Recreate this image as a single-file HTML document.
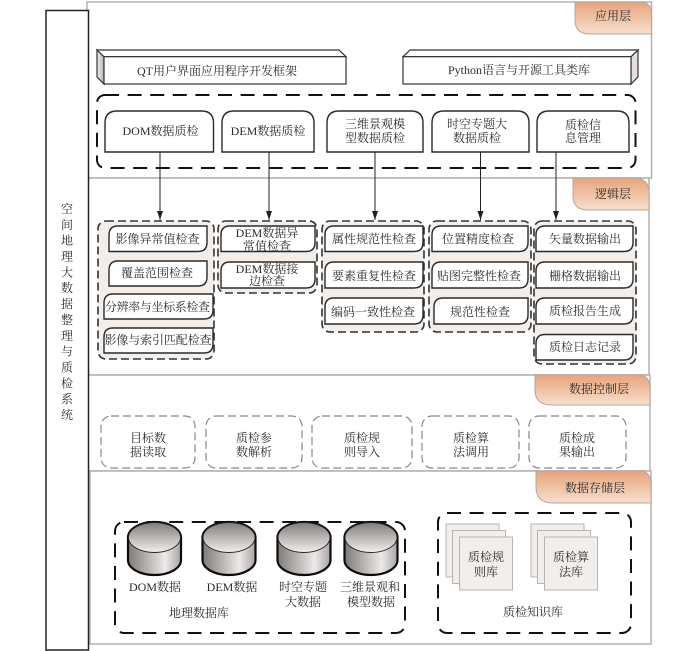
<!DOCTYPE html>
<html><head><meta charset="utf-8"><style>
html,body{margin:0;padding:0;background:#fff}
svg{display:block;filter:blur(.35px)}
text{font-family:"Liberation Serif","Noto Serif CJK SC",serif;font-size:12px;fill:#2c2c2c;text-anchor:middle;dominant-baseline:central}
.l{fill:#fff;stroke:#b5b0ae;stroke-width:1.5}
.t{fill:url(#tab);stroke:#b5a79e;stroke-width:1}
.p{fill:#fff;stroke:#2a2a2a;stroke-width:1.4}
.a{fill:#fff;stroke:#2a2a2a;stroke-width:1.4}
.g{fill:#f3eeea;stroke:#333;stroke-width:1.6;stroke-dasharray:8 4}
.d{fill:none;stroke:#111;stroke-width:2;stroke-dasharray:14 8.6}
.c{fill:#fff;stroke:#8a8784;stroke-width:1.2;stroke-dasharray:8 4}
.ar{stroke:#222;stroke-width:1}
.pg{fill:#f2eeeb;stroke:#b8b4b0;stroke-width:1}
.cy{fill:url(#side);stroke:#0c0c0c;stroke-width:2.2}
.ct{fill:url(#top);stroke:#222;stroke-width:.9}
</style></head><body>
<svg width="700" height="651" viewBox="0 0 700 651" xmlns="http://www.w3.org/2000/svg">
<defs>
<linearGradient id="tab" x1="0" y1="0" x2="0" y2="1"><stop offset="0" stop-color="#e6a47c"/><stop offset="1" stop-color="#f8dfcd"/></linearGradient>
<linearGradient id="top" x1="0" y1="0" x2="0" y2="1"><stop offset="0" stop-color="#827c79"/><stop offset="1" stop-color="#f1efee"/></linearGradient>
<linearGradient id="side" x1="0" y1="0" x2="1" y2="0"><stop offset="0" stop-color="#7f7a78"/><stop offset=".7" stop-color="#ece9e8"/><stop offset="1" stop-color="#a8a4a2"/></linearGradient>
<linearGradient id="pr" x1="0" y1="0" x2="1" y2="0"><stop offset="0" stop-color="#f0ecea"/><stop offset="1" stop-color="#b9b5b2"/></linearGradient>
<marker id="m" markerWidth="6" markerHeight="10" refX="3" refY="9" orient="0" markerUnits="userSpaceOnUse"><path d="M0 0L6 0L3 9Z" fill="#222"/></marker>
</defs>

<!-- layers -->
<rect class="l" x="87" y="2" width="564.5" height="176"/>
<path class="l" d="M87 178H649V375H87Z"/>
<path class="l" d="M87 375H650V471H87Z"/>
<rect class="l" x="90" y="471" width="561" height="173"/>

<!-- left bar -->
<rect x="46" y="10.5" width="42.5" height="639.5" fill="#fff" stroke="#222" stroke-width="1.5"/>
<text x="67" y="209">空</text><text x="67" y="224.8">间</text><text x="67" y="240.7">地</text><text x="67" y="256.5">理</text><text x="67" y="272.4">大</text><text x="67" y="288.2">数</text><text x="67" y="304.1">据</text><text x="67" y="320">整</text><text x="67" y="335.8">理</text><text x="67" y="351.6">与</text><text x="67" y="367.5">质</text><text x="67" y="383.4">检</text><text x="67" y="399.2">系</text><text x="67" y="415">统</text>

<!-- tabs -->
<path class="t" d="M575 2H640Q651.5 2 651.5 14V34H590Q575 34 575 20Z"/>
<path class="t" d="M573 178H637Q649 180 649 192V210H588Q573 210 573 196Z"/>
<path class="t" d="M535 375H642Q650 378 650 388V405H552Q535 405 535 390Z"/>
<path class="t" d="M536 471H642Q651 473 651 484V503H553Q536 503 536 487Z"/>
<text x="613" y="16">应用层</text>
<text x="613" y="194">逻辑层</text>
<text x="599" y="389">数据控制层</text>
<text x="595" y="488">数据存储层</text>

<!-- prisms -->
<path d="M97 50L104 56.7V84L97 77Z" fill="url(#pr)" stroke="#333" stroke-width="1.2"/>
<path d="M97 50H339L346 56.7H104Z" fill="#fff" stroke="#333" stroke-width="1.2"/>
<rect x="104" y="56.7" width="242" height="27.3" fill="#fff" stroke="#333" stroke-width="1.2"/>
<text x="217" y="71">QT用户界面应用程序开发框架</text>
<path d="M631 56.7L638 50V77L631 84Z" fill="#e4dfdc" stroke="#333" stroke-width="1.2"/>
<path d="M403 56.7L410 50H638L631 56.7Z" fill="#fff" stroke="#333" stroke-width="1.2"/>
<rect x="403" y="56.7" width="228" height="27.3" fill="#fff" stroke="#333" stroke-width="1.2"/>
<text x="519" y="70">Python语言与开源工具类库</text>

<!-- app dashed -->
<rect class="d" x="97" y="95" width="538.5" height="73" rx="8"/>
<path class="a" d="M105 152V123Q105 111 117 111H201.500Q213.500 111 213.500 123V152Z"/>
<path class="a" d="M222 152V123Q222 111 234 111H302Q314 111 314 123V152Z"/>
<path class="a" d="M327 152V123Q327 111 339 111H411Q423 111 423 123V152Z"/>
<path class="a" d="M432 152V123Q432 111 444 111H517Q529 111 529 123V152Z"/>
<path class="a" d="M537 152V123Q537 111 549 111H617Q629 111 629 123V152Z"/>
<text x="160.500" y="131">DOM数据质检</text>
<text x="268" y="131">DEM数据质检</text>
<text x="375" y="124">三维景观模</text><text x="375" y="138">型数据质检</text>
<text x="477" y="124">时空专题大</text><text x="477" y="138">数据质检</text>
<text x="583" y="125">质检信</text><text x="583" y="138">息管理</text>

<!-- logic groups -->
<rect class="g" x="98" y="221" width="116" height="138" rx="8"/>
<rect class="g" x="218" y="221" width="99" height="72" rx="8"/>
<rect class="g" x="322" y="221" width="102" height="111" rx="8"/>
<rect class="g" x="429" y="221" width="102" height="111" rx="8"/>
<rect class="g" x="534" y="221" width="102" height="143" rx="8"/>

<!-- arrows -->
<line class="ar" x1="160" y1="152" x2="160" y2="220" marker-end="url(#m)"/>
<line class="ar" x1="269" y1="152" x2="269" y2="220" marker-end="url(#m)"/>
<line class="ar" x1="375" y1="152" x2="375" y2="220" marker-end="url(#m)"/>
<line class="ar" x1="480.500" y1="152" x2="480.500" y2="220" marker-end="url(#m)"/>
<line class="ar" x1="556" y1="152" x2="556" y2="220" marker-end="url(#m)"/>

<!-- group 1 -->
<path class="p" d="M109 251.500V235Q109 226 118 226H207V242.500Q207 251.500 198 251.500Z"/>
<path class="p" d="M109 286V270Q109 261 118 261H207V277Q207 286 198 286Z"/>
<path class="p" d="M104 319V303Q104 294 113 294H213V310Q213 319 204 319Z"/>
<path class="p" d="M104 353V337Q104 328 113 328H213V344Q213 353 204 353Z"/>
<text x="157.500" y="239">影像异常值检查</text>
<text x="157" y="273">覆盖范围检查</text>
<text x="157.500" y="307" textLength="105">分辨率与坐标系检查</text>
<text x="158" y="340" textLength="107">影像与索引匹配检查</text>

<!-- group 2 -->
<path class="p" d="M221 251.500V235Q221 226 230 226H315V242.500Q315 251.500 306 251.500Z"/>
<path class="p" d="M221 288V271Q221 262 230 262H315V279Q315 288 306 288Z"/>
<text x="267" y="233">DEM数据异</text><text x="267" y="246">常值检查</text>
<text x="267" y="269">DEM数据接</text><text x="267" y="281">边检查</text>

<!-- group 3 -->
<path class="p" d="M325 251.500V235Q325 226 334 226H423V242.500Q423 251.500 414 251.500Z"/>
<path class="p" d="M325 288V271Q325 262 334 262H423V279Q423 288 414 288Z"/>
<path class="p" d="M325 324V307Q325 298 334 298H423V315Q423 324 414 324Z"/>
<text x="374" y="239">属性规范性检查</text>
<text x="374" y="276">要素重复性检查</text>
<text x="373" y="312">编码一致性检查</text>

<!-- group 4 -->
<path class="p" d="M432 251.500V235Q432 226 441 226H528V242.500Q528 251.500 519 251.500Z"/>
<path class="p" d="M432 288V271Q432 262 441 262H528V279Q528 288 519 288Z"/>
<path class="p" d="M434 324V307Q434 298 443 298H528V315Q528 324 519 324Z"/>
<text x="478" y="239">位置精度检查</text>
<text x="479" y="276">贴图完整性检查</text>
<text x="480" y="312">规范性检查</text>

<!-- group 5 -->
<path class="p" d="M536 251.500V235Q536 226 545 226H633V242.500Q633 251.500 624 251.500Z"/>
<path class="p" d="M536 288V271Q536 262 545 262H633V279Q633 288 624 288Z"/>
<path class="p" d="M536 324V307Q536 298 545 298H633V315Q633 324 624 324Z"/>
<path class="p" d="M536 360V343.500Q536 334.500 545 334.500H633V351Q633 360 624 360Z"/>
<text x="585" y="239">矢量数据输出</text>
<text x="585" y="276">栅格数据输出</text>
<text x="585" y="311">质检报告生成</text>
<text x="585" y="347">质检日志记录</text>

<!-- control -->
<rect class="c" x="101" y="416" width="94" height="52" rx="10"/>
<rect class="c" x="206" y="416" width="96" height="52" rx="10"/>
<rect class="c" x="312" y="416" width="100" height="52" rx="10"/>
<rect class="c" x="422" y="416" width="97" height="52" rx="10"/>
<rect class="c" x="529" y="416" width="97" height="52" rx="10"/>
<text x="148" y="438">目标数</text><text x="148" y="452">据读取</text>
<text x="254" y="438">质检参</text><text x="254" y="452">数解析</text>
<text x="362" y="438">质检规</text><text x="362" y="452">则导入</text>
<text x="471" y="438">质检算</text><text x="471" y="452">法调用</text>
<text x="577" y="438">质检成</text><text x="577" y="452">果输出</text>

<!-- storage -->
<rect class="d" x="115" y="522" width="290" height="111" rx="9"/>
<rect class="d" x="438" y="513" width="193" height="120" rx="9"/>

<path class="cy" d="M128 537.500V560A26.500 15 0 0 0 181 560V537.500A26.500 15.500 0 0 0 128 537.500Z"/><ellipse class="ct" cx="154.500" cy="537.500" rx="26" ry="15"/>
<path class="cy" d="M202.500 537.500V560A26.500 15 0 0 0 255.500 560V537.500A26.500 15.500 0 0 0 202.500 537.500Z"/><ellipse class="ct" cx="229" cy="537.500" rx="26" ry="15"/>
<path class="cy" d="M277.500 537.500V560A26.500 15 0 0 0 330.500 560V537.500A26.500 15.500 0 0 0 277.500 537.500Z"/><ellipse class="ct" cx="304" cy="537.500" rx="26" ry="15"/>
<path class="cy" d="M344.500 537.500V560A26.500 15 0 0 0 397.500 560V537.500A26.500 15.500 0 0 0 344.500 537.500Z"/><ellipse class="ct" cx="371" cy="537.500" rx="26" ry="15"/>
<text x="155" y="587">DOM数据</text>
<text x="232" y="587">DEM数据</text>
<text x="303" y="587">时空专题</text><text x="303" y="602">大数据</text>
<text x="370" y="587">三维景观和</text><text x="371" y="602">模型数据</text>
<text x="199" y="613">地理数据库</text>

<rect class="pg" x="446" y="524" width="53" height="53"/>
<rect class="pg" x="452.500" y="530.500" width="53" height="53"/>
<rect class="pg" x="459.500" y="537" width="53" height="53"/>
<text x="486" y="557">质检规</text><text x="486" y="572">则库</text>
<rect class="pg" x="531" y="524" width="53" height="53"/>
<rect class="pg" x="537.500" y="530.500" width="53" height="53"/>
<rect class="pg" x="544.500" y="537" width="53" height="53"/>
<text x="571" y="557">质检算</text><text x="571" y="572">法库</text>
<text x="533" y="612">质检知识库</text>
</svg>
</body></html>
